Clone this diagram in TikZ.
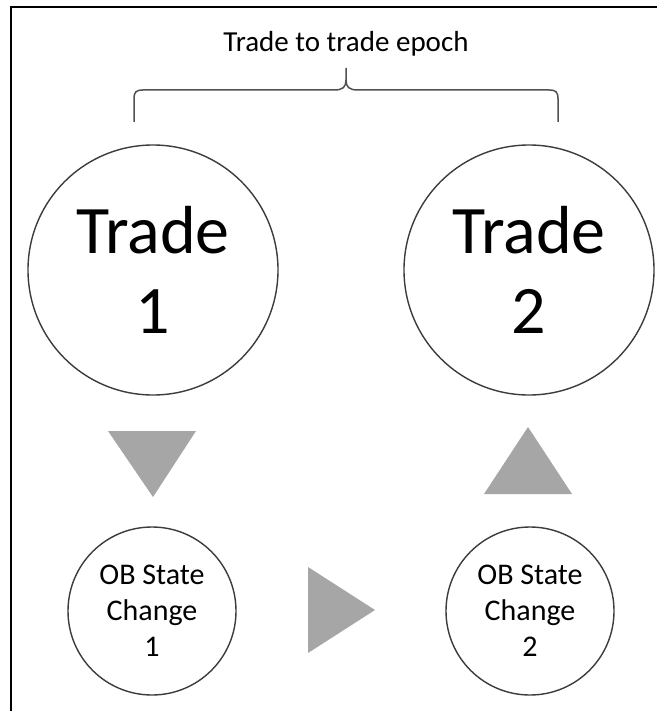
\documentclass[tikz,border=0pt]{standalone}
\usepackage{fontspec}
\setmainfont{Carlito}
\definecolor{ringline}{RGB}{60,60,60}
\definecolor{braceline}{RGB}{80,80,80}
\definecolor{arrowfill}{RGB}{166,166,166}
\begin{document}
\begin{tikzpicture}[x=1pt,y=-1pt,
  ring/.style={draw=ringline, line width=1.4pt, circle, inner sep=0pt, align=center, text=black},
  bigring/.style={ring, minimum size=250pt, font=\fontsize{68}{80}\selectfont},
  smallring/.style={ring, minimum size=168pt, font=\fontsize{30}{36}\selectfont},
  pointer/.style={fill=arrowfill, draw=none},
  titletext/.style={font=\fontsize{29}{35}\selectfont, text=black, inner sep=0pt}]
\useasboundingbox (0,0) rectangle (657,711);
\fill[white] (0,0) rectangle (657,711);

% frame (top and left edges)
\draw[line width=2.6pt, black] (11,711) -- (11,7) -- (657,7);

% title and brace
\node[titletext, anchor=base] (title) at (346,52) {Trade to trade epoch};
\coordinate (bl) at (134,122);
\coordinate (br) at (558,122);
\coordinate (tip) at (346,68);
\draw[braceline, line width=1.5pt, line join=round]
  (bl) -- (134,99) .. controls (134,92) and (136,90) .. (143,90)
  -- (334,90) .. controls (343,90) and (346,87) .. (346,80) -- (tip);
\draw[braceline, line width=1.5pt, line join=round]
  (346,80) .. controls (346,87) and (349,90) .. (358,90)
  -- (549,90) .. controls (556,90) and (558,92) .. (558,99) -- (br);

% trade circles
\node[bigring] (trade1) at (153,270) {Trade\\1};
\node[bigring] (trade2) at (529,270) {Trade\\2};

% order book state changes
\node[smallring] (ob1) at (152,611) {OB State\\Change\\1};
\node[smallring] (ob2) at (530,611) {OB State\\Change\\2};

% flow pointers
\fill[pointer] (108,431) -- (196,431) -- (153,497) -- cycle;
\fill[pointer] (308,567) -- (308,653) -- (375,610) -- cycle;
\fill[pointer] (484,494) -- (572,494) -- (528,427) -- cycle;
\end{tikzpicture}
\end{document}
